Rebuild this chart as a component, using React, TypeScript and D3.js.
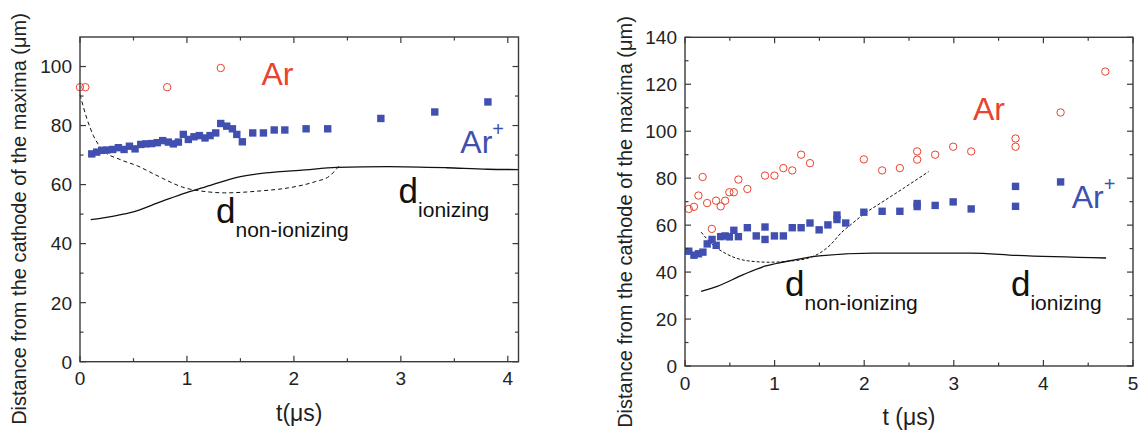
import React from "react";
import * as d3 from "d3";

// ---------- data: left panel ----------
const leftAr: [number, number][] = [
  [0.0, 93.0], [0.05, 93.0], [0.815, 93.0], [1.316, 99.5],
];
const leftArPlus: [number, number][] = [
  [0.11, 70.4], [0.156, 71.0], [0.203, 71.6], [0.25, 71.7], [0.306, 71.9],
  [0.359, 72.5], [0.412, 71.9], [0.462, 73.0], [0.515, 72.1], [0.568, 73.6],
  [0.617, 73.8], [0.67, 73.9], [0.723, 74.2], [0.773, 74.9], [0.826, 74.4],
  [0.873, 73.8], [0.92, 74.4], [0.966, 77.0], [1.013, 75.3], [1.066, 76.2],
  [1.116, 76.6], [1.169, 75.8], [1.216, 76.6], [1.269, 77.5], [1.316, 80.7],
  [1.372, 79.8], [1.425, 78.9], [1.466, 77.0], [1.518, 74.5], [1.615, 77.5],
  [1.715, 77.5], [1.816, 78.5], [1.915, 78.5], [2.114, 78.9], [2.316, 78.9],
  [2.813, 82.4], [3.317, 84.6], [3.814, 88.0],
];
const leftIonizing: [number, number][] = [
  [0.1, 48.1], [0.35, 49.6], [0.48, 50.6], [0.77, 54.4], [0.99, 57.2],
  [1.18, 59.3], [1.5, 62.7], [1.87, 64.4], [2.05, 64.8], [2.4, 65.8],
  [2.88, 66.1], [3.43, 65.7], [3.81, 65.2], [4.1, 65.1],
];
const leftNonIonizing: [number, number][] = [
  [0.0, 90.5], [0.063, 82.5], [0.125, 76.6], [0.22, 71.5], [0.375, 68.5],
  [0.54, 66.3], [0.69, 63.6], [0.99, 58.8], [1.18, 57.6], [1.35, 57.2],
  [1.7, 57.9], [1.95, 58.9], [2.2, 61.0], [2.33, 62.8], [2.42, 66.2],
];

// ---------- data: right panel ----------
const rightAr: [number, number][] = [
  [0.042, 66.9], [0.1, 67.8], [0.15, 72.6], [0.197, 80.5], [0.247, 69.4],
  [0.3, 58.4], [0.347, 70.4], [0.398, 68.0], [0.448, 70.4], [0.495, 74.0],
  [0.545, 74.0], [0.596, 79.4], [0.696, 75.4], [0.893, 81.1], [0.998, 81.1],
  [1.098, 84.3], [1.197, 83.3], [1.296, 90.0], [1.395, 86.4], [1.996, 88.0],
  [2.2, 83.3], [2.398, 84.3], [2.591, 91.4], [2.591, 87.9], [2.792, 90.0],
  [2.993, 93.4], [3.194, 91.4], [3.689, 96.9], [3.689, 93.4], [4.192, 108.0],
  [4.691, 125.4],
];
const rightArPlus: [number, number][] = [
  [0.042, 48.9], [0.1, 47.2], [0.151, 47.8], [0.2, 48.5], [0.248, 52.0],
  [0.302, 53.9], [0.348, 51.4], [0.398, 55.1], [0.448, 55.4], [0.495, 55.0],
  [0.545, 57.8], [0.596, 55.1], [0.696, 58.9], [0.795, 55.4], [0.893, 59.2],
  [0.893, 53.9], [0.998, 55.4], [1.098, 55.4], [1.197, 58.9], [1.296, 58.9],
  [1.395, 60.9], [1.497, 58.0], [1.595, 60.1], [1.696, 64.3], [1.696, 62.4],
  [1.794, 60.9], [1.996, 65.5], [2.2, 65.9], [2.398, 65.9], [2.591, 69.2],
  [2.591, 67.9], [2.792, 68.4], [2.993, 69.9], [3.194, 66.9], [3.689, 76.5],
  [3.689, 68.0], [4.192, 78.4],
];
const rightIonizing: [number, number][] = [
  [0.18, 31.8], [0.36, 33.9], [0.65, 38.9], [0.9, 42.6], [1.1, 44.3],
  [1.5, 46.9], [2.1, 48.1], [3.19, 48.1], [3.7, 47.1], [4.7, 46.0],
];
const rightNonIonizing: [number, number][] = [
  [0.18, 57.0], [0.3, 52.0], [0.47, 47.6], [0.7, 44.8], [0.95, 44.2],
  [1.15, 44.6], [1.38, 46.0], [1.5, 48.0], [1.62, 51.5], [1.75, 57.0],
  [1.85, 60.2], [2.0, 64.8], [2.2, 69.8], [2.45, 76.0], [2.72, 82.8],
];

// ---------- axes ----------
const leftXTicks = [0, 1, 2, 3, 4];
const leftXMinor = [0.5, 1.5, 2.5, 3.5];
const leftYTicks = [0, 20, 40, 60, 80, 100];
const leftYMinor = [10, 30, 50, 70, 90];
const rightXTicks = [0, 1, 2, 3, 4, 5];
const rightXMinor = [0.5, 1.5, 2.5, 3.5, 4.5];
const rightYTicks = [0, 20, 40, 60, 80, 100, 120, 140];
const rightYMinor = [10, 30, 50, 70, 90, 110, 130];

const yTitle = "Distance from the cathode of the maxima (\u03bcm)";
const leftXTitle = "t(\u03bcs)";
const rightXTitle = "t (\u03bcs)";

const RED = "#e8432e";
const BLUE = "#4150b0";
const AXIS = "#3a3a3a";
const FONT = "'Liberation Sans', Arial, sans-serif";

type P = [number, number];

interface PanelProps {
  xDomain: [number, number];
  yDomain: [number, number];
  xRange: [number, number];
  yRange: [number, number];
  xTicks: number[];
  xMinor: number[];
  yTicks: number[];
  yMinor: number[];
  ar: P[];
  arPlus: P[];
  ionizing: P[];
  nonIonizing: P[];
  dash: string;
  xTitle: string;
  yTitleX: number;
  yTitleY: number;
  xTitleY: number;
  xLabelDy: number;
  arLabel: P;
  arPlusLabel: P;
  dNonLabel: P;
  dIonLabel: P;
}

function Panel(p: PanelProps) {
  const x = d3.scaleLinear().domain(p.xDomain).range(p.xRange);
  const y = d3.scaleLinear().domain(p.yDomain).range(p.yRange);
  const line = d3
    .line<P>()
    .x((d) => x(d[0]))
    .y((d) => y(d[1]))
    .curve(d3.curveMonotoneX);
  const [x0, x1] = p.xRange;
  const [y0, y1] = p.yRange;
  const major = 6;
  const minor = 3.5;
  const sq = 7.4;
  return (
    <g fontFamily={FONT}>
      {/* curves */}
      <path d={line(p.ionizing) || ""} fill="none" stroke="#111" strokeWidth={1.3} />
      <path
        d={line(p.nonIonizing) || ""}
        fill="none"
        stroke="#111"
        strokeWidth={1}
        strokeDasharray={p.dash}
      />
      {/* Ar+ squares */}
      {p.arPlus.map((d, i) => (
        <rect
          key={"s" + i}
          x={x(d[0]) - sq / 2}
          y={y(d[1]) - sq / 2}
          width={sq}
          height={sq}
          fill={BLUE}
        />
      ))}
      {/* Ar circles */}
      {p.ar.map((d, i) => (
        <circle
          key={"c" + i}
          cx={x(d[0])}
          cy={y(d[1])}
          r={3.7}
          fill="none"
          stroke={RED}
          strokeWidth={1}
        />
      ))}
      {/* frame */}
      <rect x={x0} y={y1} width={x1 - x0} height={y0 - y1} fill="none" stroke={AXIS} strokeWidth={1.4} />
      {/* ticks */}
      {p.xTicks.map((t) => (
        <g key={"xt" + t}>
          <line x1={x(t)} x2={x(t)} y1={y0} y2={y0 - major} stroke={AXIS} strokeWidth={1.2} />
          <line x1={x(t)} x2={x(t)} y1={y1} y2={y1 + major} stroke={AXIS} strokeWidth={1.2} />
          <text x={x(t)} y={y0 + p.xLabelDy} textAnchor="middle" fontSize={19} fill="#222">
            {t}
          </text>
        </g>
      ))}
      {p.xMinor.map((t) => (
        <g key={"xm" + t}>
          <line x1={x(t)} x2={x(t)} y1={y0} y2={y0 - minor} stroke={AXIS} strokeWidth={1.2} />
          <line x1={x(t)} x2={x(t)} y1={y1} y2={y1 + minor} stroke={AXIS} strokeWidth={1.2} />
        </g>
      ))}
      {p.yTicks.map((t) => (
        <g key={"yt" + t}>
          <line x1={x0} x2={x0 + major} y1={y(t)} y2={y(t)} stroke={AXIS} strokeWidth={1.2} />
          <line x1={x1} x2={x1 - major} y1={y(t)} y2={y(t)} stroke={AXIS} strokeWidth={1.2} />
          <text x={x0 - 8} y={y(t)} dy="0.36em" textAnchor="end" fontSize={19} fill="#222">
            {t}
          </text>
        </g>
      ))}
      {p.yMinor.map((t) => (
        <g key={"ym" + t}>
          <line x1={x0} x2={x0 + minor} y1={y(t)} y2={y(t)} stroke={AXIS} strokeWidth={1.2} />
          <line x1={x1} x2={x1 - minor} y1={y(t)} y2={y(t)} stroke={AXIS} strokeWidth={1.2} />
        </g>
      ))}
      {/* axis titles */}
      <text
        x={0}
        y={0}
        transform={`translate(${p.yTitleX},${p.yTitleY}) rotate(-90)`}
        textAnchor="middle"
        fontSize={20}
        fill="#222"
      >
        {yTitle}
      </text>
      <text x={(x0 + x1) / 2} y={p.xTitleY} textAnchor="middle" fontSize={23} fill="#222">
        {p.xTitle}
      </text>
      {/* annotations */}
      <text x={x(p.arLabel[0])} y={y(p.arLabel[1])} fontSize={32} fill={RED}>
        Ar
      </text>
      <text x={x(p.arPlusLabel[0])} y={y(p.arPlusLabel[1])} fontSize={32} fill={BLUE}>
        Ar
        <tspan fontSize={20} dy={-17}>
          +
        </tspan>
      </text>
      <text x={x(p.dNonLabel[0])} y={y(p.dNonLabel[1])} fontSize={35} fill="#111">
        d
        <tspan fontSize={21} dy={14}>
          non-ionizing
        </tspan>
      </text>
      <text x={x(p.dIonLabel[0])} y={y(p.dIonLabel[1])} fontSize={35} fill="#111">
        d
        <tspan fontSize={21} dy={14}>
          ionizing
        </tspan>
      </text>
    </g>
  );
}

export default function App() {
  return (
    <svg
      width={1145}
      height={441}
      viewBox="0 0 1145 441"
      style={{ position: "absolute", left: 0, top: 0, background: "#fff" }}
    >
      <rect width={1145} height={441} fill="#fff" />
      <Panel
        xDomain={[0, 4.1]}
        yDomain={[0, 110]}
        xRange={[80, 518.5]}
        yRange={[361.7, 37]}
        xTicks={leftXTicks}
        xMinor={leftXMinor}
        yTicks={leftYTicks}
        yMinor={leftYMinor}
        ar={leftAr}
        arPlus={leftArPlus}
        ionizing={leftIonizing}
        nonIonizing={leftNonIonizing}
        dash="4,3"
        xTitle={leftXTitle}
        yTitleX={26}
        yTitleY={219}
        xTitleY={421}
        xLabelDy={23}
        arLabel={[1.696, 93.7]}
        arPlusLabel={[3.556, 70.6]}
        dNonLabel={[1.272, 46.9]}
        dIonLabel={[2.979, 53.9]}
      />
      <Panel
        xDomain={[0, 5]}
        yDomain={[0, 140]}
        xRange={[685, 1133]}
        yRange={[366, 37.3]}
        xTicks={rightXTicks}
        xMinor={rightXMinor}
        yTicks={rightYTicks}
        yMinor={rightYMinor}
        ar={rightAr}
        arPlus={rightArPlus}
        ionizing={rightIonizing}
        nonIonizing={rightNonIonizing}
        dash="3,2"
        xTitle={rightXTitle}
        yTitleX={632}
        yTitleY={222}
        xTitleY={425}
        xLabelDy={24}
        arLabel={[3.214, 104.6]}
        arPlusLabel={[4.316, 67.1]}
        dNonLabel={[1.117, 29.7]}
        dIonLabel={[3.638, 29.7]}
      />
    </svg>
  );
}
